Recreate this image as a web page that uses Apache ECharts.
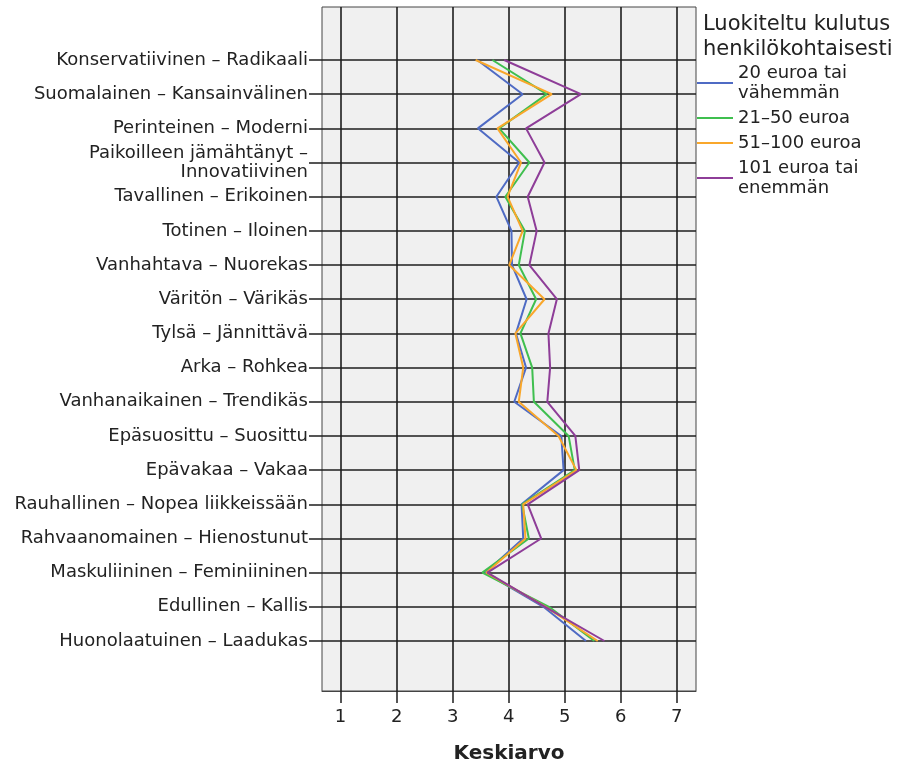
<!DOCTYPE html>
<html>
<head>
<meta charset="utf-8">
<script src="https://cdn.jsdelivr.net/npm/echarts@6/dist/echarts.min.js"></script>
<style>html,body{margin:0;padding:0;background:#fff}#chart{width:904px;height:769px}</style>
</head>
<body>
<div id="chart"></div>
<script>
const categories = [
  'Konservatiivinen – Radikaali',
  'Suomalainen – Kansainvälinen',
  'Perinteinen – Moderni',
  'Paikoilleen jämähtänyt –\nInnovatiivinen',
  'Tavallinen – Erikoinen',
  'Totinen – Iloinen',
  'Vanhahtava – Nuorekas',
  'Väritön – Värikäs',
  'Tylsä – Jännittävä',
  'Arka – Rohkea',
  'Vanhanaikainen – Trendikäs',
  'Epäsuosittu – Suosittu',
  'Epävakaa – Vakaa',
  'Rauhallinen – Nopea liikkeissään',
  'Rahvaanomainen – Hienostunut',
  'Maskuliininen – Feminiininen',
  'Edullinen – Kallis',
  'Huonolaatuinen – Laadukas'
];
const seriesNames = ['20 euroa tai\nvähemmän', '21–50 euroa', '51–100 euroa', '101 euroa tai\nenemmän'];
const s20orLess = [3.44, 4.25, 3.45, 4.19, 3.78, 4.05, 4.06, 4.32, 4.13, 4.31, 4.10, 4.94, 4.98, 4.23, 4.26, 3.58, 4.62, 5.38];
const s21to50   = [3.71, 4.68, 3.83, 4.37, 3.94, 4.29, 4.18, 4.49, 4.21, 4.42, 4.45, 5.07, 5.18, 4.24, 4.36, 3.53, 4.72, 5.53];
const s51to100  = [3.41, 4.77, 3.80, 4.22, 3.98, 4.25, 4.01, 4.64, 4.12, 4.26, 4.18, 4.89, 5.21, 4.26, 4.30, 3.60, 4.66, 5.59];
const s101more  = [3.92, 5.29, 4.31, 4.64, 4.34, 4.50, 4.37, 4.86, 4.71, 4.74, 4.69, 5.19, 5.26, 4.34, 4.58, 3.62, 4.65, 5.71];
const xTicks = [1, 2, 3, 4, 5, 6, 7];
const colors = ['#4f6bc4', '#3fbf4f', '#f9a72b', '#8e3d98'];
const allSeries = [s20orLess, s21to50, s51to100, s101more];

const FONT = 'DejaVu Sans';
const XMIN = 0.668, XMAX = 7.344;
const gridColor = '#1e1e1e';

const chart = echarts.init(document.getElementById('chart'), null, {renderer: 'canvas'});
chart.setOption({
  backgroundColor: '#fff',
  animation: false,
  textStyle: {fontFamily: FONT},
  title: {
    text: 'Luokiteltu kulutus\nhenkilökohtaisesti',
    left: 698, top: 7,
    textStyle: {fontFamily: FONT, fontSize: 21, fontWeight: 'normal', color: '#222', lineHeight: 25}
  },
  legend: {
    orient: 'vertical',
    left: 697, top: 63,
    padding: 0,
    icon: 'rect',
    itemWidth: 36, itemHeight: 2,
    itemGap: 5,
    data: seriesNames,
    textStyle: {fontFamily: FONT, fontSize: 18, color: '#222', lineHeight: 20}
  },
  grid: [
    {left: 322, top: 7, width: 374, height: 684, show: true, backgroundColor: '#f0f0f0', borderColor: '#444', borderWidth: 1},
    {left: 322, top: 60, width: 374, height: 581, show: false}
  ],
  xAxis: [
    {
      gridIndex: 0, type: 'value', min: XMIN, max: XMAX,
      name: 'Keskiarvo', nameLocation: 'middle', nameGap: 53,
      nameTextStyle: {fontFamily: FONT, fontSize: 20, fontWeight: 'bold', color: '#222'},
      axisLine: {show: true, lineStyle: {color: '#444', width: 1}},
      axisTick: {show: true, length: 12, customValues: xTicks, lineStyle: {color: gridColor, width: 1.5}},
      axisLabel: {customValues: xTicks, margin: 17, fontSize: 18, color: '#222', fontFamily: FONT},
      splitLine: {show: true, lineStyle: {color: gridColor, width: 1.6}}
    },
    {
      gridIndex: 1, type: 'value', min: XMIN, max: XMAX, show: false,
      splitLine: {show: false}
    }
  ],
  yAxis: [
    {gridIndex: 0, type: 'value', min: 0, max: 1, show: false, splitLine: {show: false}},
    {
      gridIndex: 1, type: 'category', data: categories, inverse: true, boundaryGap: false,
      axisLine: {show: false},
      axisTick: {show: true, length: 13, alignWithLabel: true, lineStyle: {color: gridColor, width: 1.5}},
      axisLabel: {interval: 0, margin: 14, fontSize: 18, color: '#222', fontFamily: FONT, lineHeight: 19},
      splitLine: {show: true, interval: 0, lineStyle: {color: gridColor, width: 1.6}}
    }
  ],
  series: allSeries.map((vals, i) => ({
    name: seriesNames[i],
    type: 'line',
    xAxisIndex: 1, yAxisIndex: 1,
    data: vals.map((v, j) => [v, categories[j]]),
    symbol: 'none',
    color: colors[i],
    lineStyle: {color: colors[i], width: 2},
    z: 5
  }))
});
</script>
</body>
</html>
